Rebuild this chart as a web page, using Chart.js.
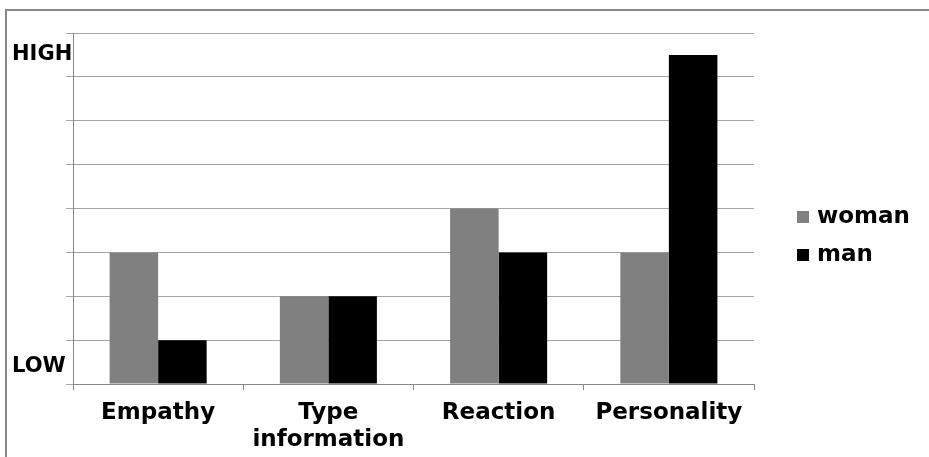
<!DOCTYPE html>
<html>
<head>
<meta charset="utf-8">
<script src="https://cdn.jsdelivr.net/npm/chart.js@4/dist/chart.umd.min.js"></script>
<style>
  body { margin: 0; background: #fff; }
  #wrap { position: relative; width: 929px; height: 457px; overflow: hidden; }
  #frame { position: absolute; left: 5px; top: 9px; width: 1000px; height: 1000px;
           border: 2px solid #888; box-sizing: border-box; }
  canvas { position: absolute; left: 0; top: 0; }
</style>
</head>
<body>
<div id="wrap">
  <div id="frame"></div>
  <canvas id="chart" width="929" height="457"></canvas>
</div>
<script>
const categories = ['Empathy', ['Type', 'information'], 'Reaction', 'Personality'];
const seriesNames = ['woman', 'man'];
const womanValues = [3, 2, 4, 3];
const manValues = [1, 2, 3, 7.5];
const seriesColors = ['#808080', '#000000'];
const levelLabels = ['LOW', 'HIGH'];
const levelValues = [0.4, 7.5];

const labelFont = { family: 'DejaVu Sans', size: 23, weight: 'bold', lineHeight: 1.15 };

// HIGH / LOW markers next to the y axis + legend on the right
const sideText = {
  id: 'sideText',
  afterDraw(chart) {
    const ctx = chart.ctx;
    const y = chart.scales.y;
    const area = chart.chartArea;
    ctx.save();
    ctx.fillStyle = '#000';
    ctx.textBaseline = 'middle';
    ctx.textAlign = 'left';
    ctx.font = 'bold 21px "DejaVu Sans"';
    levelLabels.forEach((t, i) => {
      ctx.fillText(t, 12, y.getPixelForValue(levelValues[i]));
    });
    ctx.font = 'bold 23px "DejaVu Sans"';
    chart.data.datasets.forEach((ds, i) => {
      const cy = 217 + i * 38;
      ctx.fillStyle = ds.backgroundColor;
      ctx.fillRect(area.right + 43, cy - 6, 12, 12);
      ctx.fillStyle = '#000';
      ctx.fillText(ds.label, area.right + 63, cy);
    });
    ctx.restore();
  }
};

new Chart(document.getElementById('chart'), {
  type: 'bar',
  data: {
    labels: categories,
    datasets: [
      { label: seriesNames[0], data: womanValues, backgroundColor: seriesColors[0] },
      { label: seriesNames[1], data: manValues, backgroundColor: seriesColors[1] }
    ]
  },
  options: {
    responsive: false,
    animation: false,
    layout: { padding: { left: 66, top: 33, right: 175, bottom: -6 } },
    datasets: { bar: { categoryPercentage: 0.57, barPercentage: 1.0 } },
    scales: {
      x: {
        grid: { drawOnChartArea: false, drawTicks: true, tickLength: 6, color: '#888' },
        border: { color: '#888', width: 1 },
        ticks: { color: '#000', font: labelFont, padding: 10, maxRotation: 0, autoSkip: false }
      },
      y: {
        min: 0,
        max: 8,
        grid: { color: '#a6a6a6', tickLength: 7, lineWidth: 1 },
        border: { color: '#888', width: 1 },
        ticks: { display: false, stepSize: 1 }
      }
    },
    plugins: {
      legend: { display: false },
      tooltip: { enabled: false }
    }
  },
  plugins: [sideText]
});
</script>
</body>
</html>
